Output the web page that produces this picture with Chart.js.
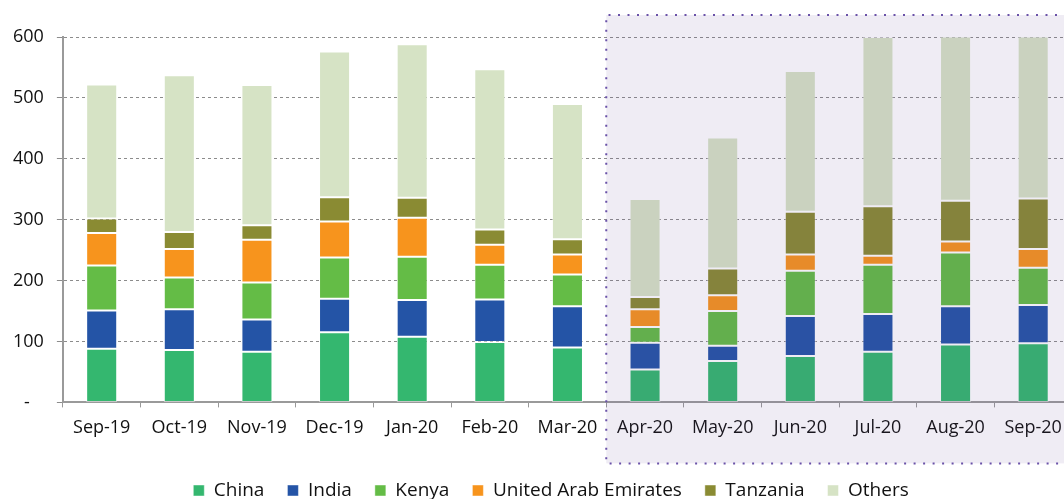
<!DOCTYPE html>
<html>
<head>
<meta charset="utf-8">
<script src="https://cdn.jsdelivr.net/npm/chart.js@4/dist/chart.umd.min.js"></script>
<style>
  body { margin: 0; overflow: hidden; background: #fff; }
  #wrap { position: relative; width: 1104px; height: 510px; }
</style>
</head>
<body>
<div id="wrap"><canvas id="chartExport"></canvas></div>
<script>
// === DATA ===
const categories = ["Sep-19", "Oct-19", "Nov-19", "Dec-19", "Jan-20", "Feb-20", "Mar-20",
  "Apr-20", "May-20", "Jun-20", "Jul-20", "Aug-20", "Sep-20"];
const china    = [88, 86, 83, 115, 108, 99, 90, 54, 68, 76, 83, 95, 97];
const india    = [63, 67, 53, 55, 60, 70, 68, 44, 25, 66, 62, 63, 63];
const kenya    = [74, 52, 61, 68, 71, 57, 52, 26, 57, 74, 81, 88, 61];
const uae      = [53, 47, 70, 59, 64, 33, 33, 29, 26, 27, 15, 18, 31];
const tanzania = [24, 28, 24, 40, 33, 25, 25, 20, 44, 70, 81, 67, 83];
const others   = [220, 257, 230, 239, 252, 263, 222, 161, 215, 231, 278, 270, 266];
const yTicks   = [0, 100, 200, 300, 400, 500, 600];

const FONT = "'Open Sans', sans-serif";

// shaded box over Apr-20 onwards
const shadeBox = {
  id: "shadeBox",
  afterLayout(chart) {
    // nudge legend a bit to the right, like the original
    chart.legend.left += 15;
    chart.legend.right += 15;
  },
  afterDatasetsDraw(chart) {
    const x = chart.scales.x, y = chart.scales.y;
    const ctx = chart.ctx;
    const left = x.getPixelForValue(6.5);
    const top = y.getPixelForValue(600) - 22;
    const bottom = y.getPixelForValue(0) + 61;
    const right = chart.width + 10;
    ctx.save();
    ctx.fillStyle = "rgba(100, 70, 150, 0.1)";
    ctx.fillRect(left, top, right - left, bottom - top);
    ctx.strokeStyle = "#6a52a8";
    ctx.lineWidth = 2;
    ctx.setLineDash([2, 7.5]);
    ctx.beginPath();
    ctx.moveTo(right, top);
    ctx.lineTo(left, top);
    ctx.lineTo(left, bottom);
    ctx.lineTo(right, bottom);
    ctx.stroke();
    ctx.restore();
  }
};

function ds(label, data, color) {
  return {
    label: label,
    data: data,
    backgroundColor: color,
    borderColor: "rgba(255,255,255,0.45)",
    borderWidth: 1,
    borderSkipped: false,
    barPercentage: 0.4,
    categoryPercentage: 1,
    clip: false
  };
}

new Chart(document.getElementById("chartExport"), {
  type: "bar",
  data: {
    labels: categories,
    datasets: [
      ds("China", china, "#34b76f"),
      ds("India", india, "#2454a6"),
      ds("Kenya", kenya, "#64bc46"),
      ds("United Arab Emirates", uae, "#f7941d"),
      ds("Tanzania", tanzania, "#8a8b33"),
      ds("Others", others, "#d6e3c5")
    ]
  },
  options: {
    responsive: true,
    maintainAspectRatio: false,
    animation: false,
    layout: { padding: { top: 37, right: 32, left: 0, bottom: 0 } },
    plugins: {
      tooltip: { enabled: false },
      legend: {
        position: "bottom",
        labels: {
          boxWidth: 11,
          boxHeight: 11,
          padding: 23,
          color: "#111",
          font: { family: FONT, size: 19 }
        }
      }
    },
    scales: {
      x: {
        stacked: true,
        afterFit(axis) {
          axis.height += 9;
        },
        grid: {
          offset: true,
          drawOnChartArea: false,
          drawTicks: true,
          tickLength: 5,
          color: "#999"
        },
        border: { color: "#9a9a9a", width: 2 },
        ticks: {
          color: "#111",
          padding: 10,
          maxRotation: 0,
          autoSkip: false,
          font: { family: FONT, size: 18 }
        }
      },
      y: {
        stacked: true,
        min: 0,
        max: 600,
        afterBuildTicks(axis) {
          axis.ticks = yTicks.map(v => ({ value: v }));
        },
        grid: {
          color: "#8c8c8c",
          tickBorderDash: [],
          tickLength: 6,
          lineWidth: 1
        },
        border: { color: "#9a9a9a", width: 2, dash: [3, 3] },
        ticks: {
          color: "#111",
          padding: 13,
          font: { family: FONT, size: 18 },
          callback: v => (v === 0 ? "-   " : v)
        }
      }
    }
  },
  plugins: [shadeBox]
});
</script>
</body>
</html>
